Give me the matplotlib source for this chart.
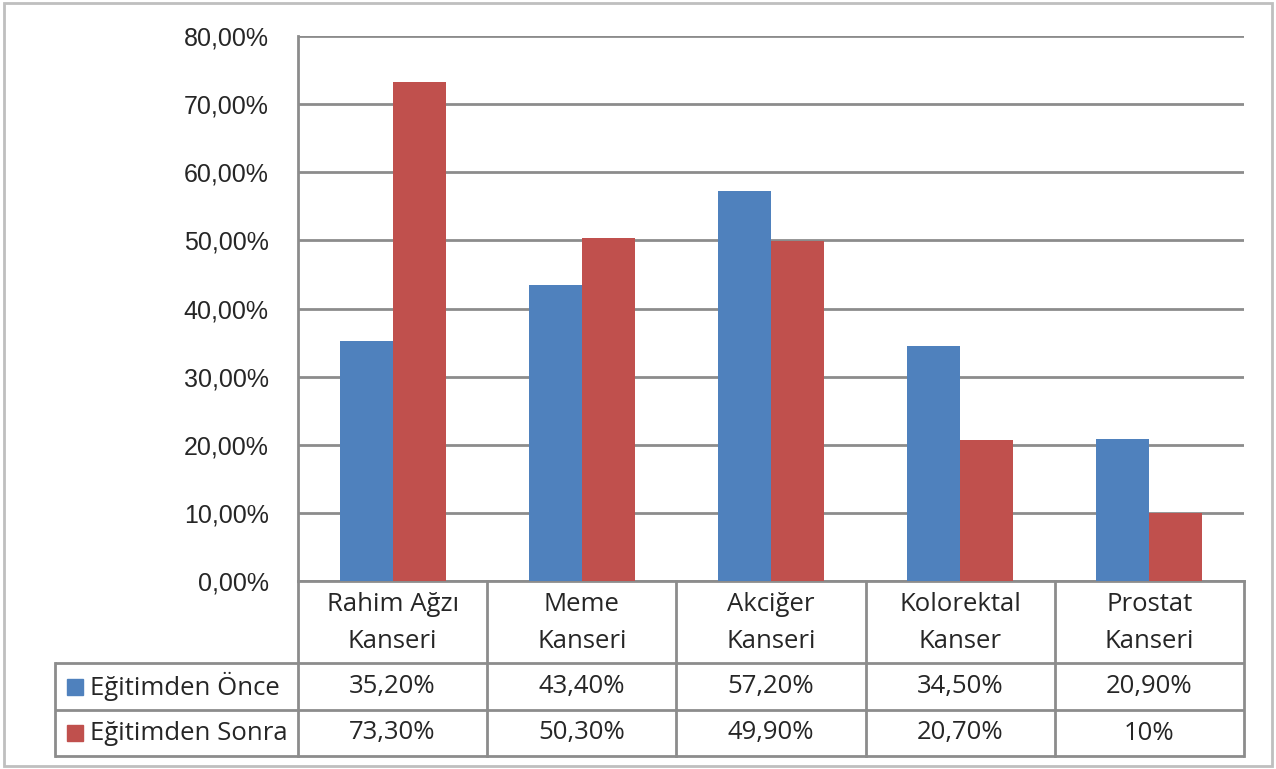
import matplotlib
matplotlib.use("Agg")
import matplotlib.pyplot as plt
from matplotlib.patches import Rectangle
import numpy as np

categories = ["Rahim Ağzı\nKanseri", "Meme\nKanseri", "Akciğer\nKanseri",
              "Kolorektal\nKanser", "Prostat\nKanseri"]
series_names = ["Eğitimden Önce", "Eğitimden Sonra"]
before = [35.2, 43.4, 57.2, 34.5, 20.9]
after = [73.3, 50.3, 49.9, 20.7, 10.0]
before_labels = ["35,20%", "43,40%", "57,20%", "34,50%", "20,90%"]
after_labels = ["73,30%", "50,30%", "49,90%", "20,70%", "10%"]
yticks = [0, 10, 20, 30, 40, 50, 60, 70, 80]
ytick_labels = ["0,00%", "10,00%", "20,00%", "30,00%", "40,00%",
                "50,00%", "60,00%", "70,00%", "80,00%"]

BLUE = "#4F81BD"
RED = "#C0504D"
GRID = "#8C8C8C"
TXT = "#262626"
TABLE_FONT = ["Open Sans", "DejaVu Sans"]
TICK_FONT = ["Liberation Sans", "DejaVu Sans"]
TFS = 18.5

W, H = 1276, 769
fig = plt.figure(figsize=(W / 100, H / 100), dpi=100)

# plot area in pixels
L, R, T, B = 298, 1244, 36, 581
ax = fig.add_axes([L / W, (H - B) / H, (R - L) / W, (B - T) / H])
x = np.arange(len(categories))
bw = 0.28
ax.bar(x - bw / 2, before, width=bw, color=BLUE, zorder=3)
ax.bar(x + bw / 2, after, width=bw, color=RED, zorder=3)
ax.set_xlim(-0.5, len(categories) - 0.5)
ax.set_ylim(0, 80)
ax.set_yticks(yticks)
ax.set_yticklabels(ytick_labels, fontsize=18, color=TXT, family=TICK_FONT)
ax.tick_params(axis="y", length=0, pad=21)
ax.set_xticks([])
ax.grid(axis="y", color=GRID, linewidth=2, zorder=0)
for s in ["top", "right"]:
    ax.spines[s].set_visible(False)
ax.spines["left"].set_color(GRID)
ax.spines["left"].set_linewidth(2)
ax.spines["bottom"].set_color(GRID)
ax.spines["bottom"].set_linewidth(2)

# overlay for table and border in pixel coordinates
ov = fig.add_axes([0, 0, 1, 1], zorder=5)
ov.set_xlim(0, W)
ov.set_ylim(H, 0)
ov.axis("off")
ov.patch.set_alpha(0)

# outer border
ov.add_patch(Rectangle((4, 3), 1268, 763, fill=False, edgecolor="#BFBFBF", linewidth=2))

# data table
Lleg = 55
rows_y = [581, 663, 710, 756]
ncol = len(categories)
edges = [L + i * (R - L) / ncol for i in range(ncol + 1)]
lc = "#8C8C8C"
lw = 2
for yy in rows_y[1:]:
    ov.plot([Lleg, R], [yy, yy], color=lc, lw=lw, solid_capstyle="butt")
ov.plot([Lleg, Lleg], [rows_y[1], rows_y[3]], color=lc, lw=lw)
for ex in edges:
    ov.plot([ex, ex], [rows_y[0], rows_y[3]], color=lc, lw=lw)

for i, cat in enumerate(categories):
    cx = (edges[i] + edges[i + 1]) / 2
    ov.text(cx, (rows_y[0] + rows_y[1]) / 2 + 1, cat, ha="center", va="center",
            fontsize=TFS, color=TXT, family=TABLE_FONT, linespacing=1.6)
    ov.text(cx, (rows_y[1] + rows_y[2]) / 2, before_labels[i], ha="center", va="center",
            fontsize=TFS, color=TXT, family=TABLE_FONT)
    ov.text(cx, (rows_y[2] + rows_y[3]) / 2, after_labels[i], ha="center", va="center",
            fontsize=TFS, color=TXT, family=TABLE_FONT)

for j, (name, col) in enumerate(zip(series_names, [BLUE, RED])):
    cy = (rows_y[j + 1] + rows_y[j + 2]) / 2
    ov.add_patch(Rectangle((67, cy - 8), 16, 16, color=col))
    ov.text(90, cy, name, ha="left", va="center", fontsize=TFS, color=TXT,
            family=TABLE_FONT)

fig.savefig("out.png", dpi=100)
